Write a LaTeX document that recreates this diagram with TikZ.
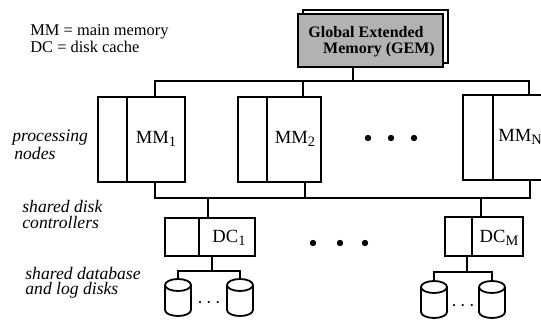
\documentclass[tikz,border=0pt]{standalone}
\usepackage{fontspec}
\setmainfont{Liberation Serif}
\newcommand\lowidx[1]{\raisebox{-0.4ex}{\fontsize{7.2}{7.2}\selectfont #1}}
\begin{document}
\begin{tikzpicture}[x=0.5pt,y=0.5pt,
  box/.style={draw, line width=1.1pt, inner sep=0pt},
  bus/.style={line width=0.65pt},
  divider/.style={line width=1.1pt},
  legendtext/.style={anchor=west, align=left, inner sep=0pt,
    font=\fontsize{8.2}{7.4}\selectfont},
  sidelabel/.style={anchor=west, align=left, inner sep=0pt,
    font=\fontsize{8.8}{7.6}\selectfont\itshape},
  memlabel/.style={inner sep=0pt, font=\fontsize{9.3}{9.3}\selectfont},
  gemtext/.style={inner sep=0pt, font=\fontsize{8}{8}\selectfont\bfseries},
  bigdot/.style={fill=black},
  disk/.pic={
    \draw[line width=0.9pt, fill=white] (-13,-6) -- (-13,-31)
      arc[start angle=180, end angle=360, x radius=6.5pt, y radius=3pt]
      -- (13,-6);
    \draw[line width=0.9pt, fill=white] (0,-6) ellipse[x radius=6.5pt, y radius=3pt];
    \coordinate (-top) at (0,0);
  }]
\useasboundingbox (0,0) rectangle (541,-321);
\clip (0,0) rectangle (541,-321);

% legend
\node[legendtext] (legend) at (30,-39) {MM = main memory\\DC = disk cache};

% global extended memory, with its shadow frame
\node[box, fill=white, minimum width=72.5pt, minimum height=26.5pt] (gemback) at (375.5,-36.5) {};
\node[box, fill=black!30, minimum width=72.5pt, minimum height=26.5pt] (gem) at (370.5,-40.5) {};
\node[gemtext] (gemline1) at (366,-32) {Global Extended};
\node[gemtext] (gemline2) at (379,-50) {Memory (GEM)};

% processing nodes
\node[box, minimum width=43.5pt, minimum height=42.5pt] (mm1) at (141.5,-139.5) {};
\node[box, minimum width=41.5pt, minimum height=42.5pt] (mm2) at (279.5,-139.5) {};
\node[box, minimum width=43.5pt, minimum height=42.5pt] (mmn) at (506.5,-137.5) {};
\draw[divider] ([xshift=15pt]mm1.north west) -- ([xshift=15pt]mm1.south west);
\draw[divider] ([xshift=15pt]mm2.north west) -- ([xshift=15pt]mm2.south west);
\draw[divider] ([xshift=15.5pt]mmn.north west) -- ([xshift=15.5pt]mmn.south west);
\node[memlabel] (mm1text) at (156,-139) {MM\lowidx{1}};
\node[memlabel] (mm2text) at (295,-139) {MM\lowidx{2}};
\node[memlabel, anchor=west] (mmntext) at (498,-137) {MM\lowidx{N}};
\fill[bigdot] (368,-138) circle[radius=1.6pt] (391,-138) circle[radius=1.6pt] (414,-138) circle[radius=1.6pt];

% disk controllers
\node[box, minimum width=45pt, minimum height=19pt] (dc1) at (210,-237) {};
\node[box, minimum width=39pt, minimum height=19.5pt] (dcm) at (484,-236.5) {};
\draw[divider] ([xshift=17.5pt]dc1.north west) -- ([xshift=17.5pt]dc1.south west);
\draw[divider] ([xshift=14pt]dcm.north west) -- ([xshift=14pt]dcm.south west);
\node[memlabel] (dc1text) at (229,-238) {DC\lowidx{1}};
\node[memlabel] (dcmtext) at (499,-238) {DC\lowidx{M}};
\fill[bigdot] (313,-243) circle[radius=1.6pt] (340,-243) circle[radius=1.6pt] (365,-243) circle[radius=1.6pt];

% disks
\pic (dk1a) at (178,-279) {disk};
\pic (dk1b) at (240,-279) {disk};
\pic (dkma) at (434,-281) {disk};
\pic (dkmb) at (492,-281) {disk};
\node[inner sep=0pt, font=\fontsize{9}{9}\selectfont] (ell1) at (209,-305) {·\,·\,·};
\node[inner sep=0pt, font=\fontsize{9}{9}\selectfont] (ellm) at (463,-308) {·\,·\,·};

% side labels
\node[sidelabel] (lblproc) at (12,-144.5) {processing\\\hspace{1pt}nodes};
\node[sidelabel] (lblctrl) at (22,-214.5) {shared disk\\controllers};
\node[sidelabel] (lbldisk) at (25,-282.5) {shared database\\and log disks};

% upper bus from GEM to the processing nodes
\coordinate (gemdrop) at ([xshift=-8.75pt]gem.south);
\coordinate (tbL) at (155,-81);
\coordinate (tb2) at (303,-81);
\coordinate (tbR) at (529,-81);
\draw[bus] (gemdrop) -- (gemdrop |- tbL);
\draw[bus] (tbL |- mm1.north) -- (tbL) -- (tbR) -- (tbR |- mmn.north);
\draw[bus] (tb2) -- (tb2 |- mm2.north);

% lower bus from the processing nodes to the disk controllers
\coordinate (bbL) at (155,-198);
\coordinate (bb2) at (305,-198);
\coordinate (bbR) at (530,-198);
\coordinate (bd1) at (208,-198);
\coordinate (bdm) at (481,-198);
\draw[bus] (bbL |- mm1.south) -- (bbL) -- (bbR) -- (bbR |- mmn.south);
\draw[bus] (bb2 |- mm2.south) -- (bb2);
\draw[bus] (bd1) -- (bd1 |- dc1.north);
\draw[bus] (bdm) -- (bdm |- dcm.north);

% controller to disk fan-out
\coordinate (ds1) at (212,-271);
\coordinate (dsm) at (467,-272);
\draw[bus] (ds1 |- dc1.south) -- (ds1);
\draw[bus] (dk1a-top) |- (ds1) -| (dk1b-top);
\draw[bus] (dsm |- dcm.south) -- (dsm);
\draw[bus] (dkma-top) |- (dsm) -| (dkmb-top);
\end{tikzpicture}
\end{document}
